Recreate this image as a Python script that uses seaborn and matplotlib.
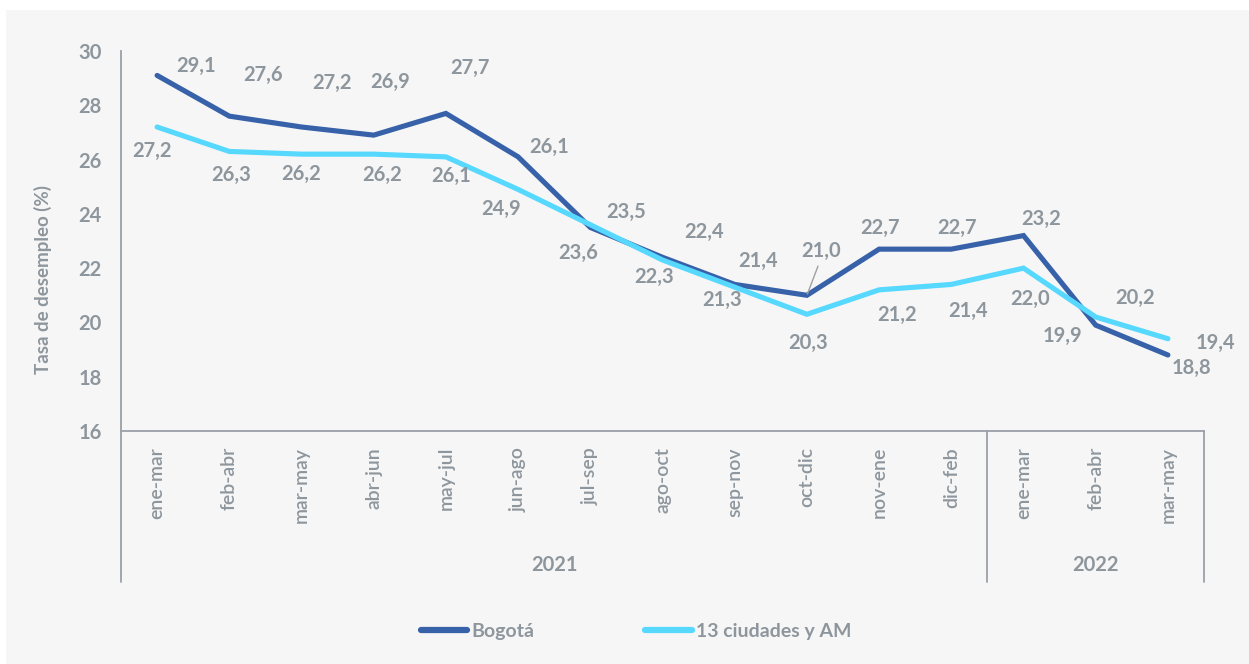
import numpy as np
import pandas as pd
import matplotlib.pyplot as plt
import seaborn as sns
from matplotlib.patches import Rectangle
from matplotlib.lines import Line2D

# data
periodos = ["ene-mar", "feb-abr", "mar-may", "abr-jun", "may-jul", "jun-ago", "jul-sep",
            "ago-oct", "sep-nov", "oct-dic", "nov-ene", "dic-feb",
            "ene-mar", "feb-abr", "mar-may"]
anios = ["2021", "2022"]
n_2021 = 12
bogota = [29.1, 27.6, 27.2, 26.9, 27.7, 26.1, 23.5, 22.4, 21.4, 21.0, 22.7, 22.7, 23.2, 19.9, 18.8]
ciudades = [27.2, 26.3, 26.2, 26.2, 26.1, 24.9, 23.6, 22.3, 21.3, 20.3, 21.2, 21.4, 22.0, 20.2, 19.4]
series = ["Bogotá", "13 ciudades y AM"]

# label offsets in points (dx, dy) relative to each point
off_bog = [(28, 7), (24, 30), (22, 32), (12, 38), (17, 33), (22, 7), (26, 11), (30, 18),
           (17, 17), (10, 32), (1, 15), (4, 15), (13, 12), (-24, -8), (17, -9)]
off_ciu = [(-4, -17), (1, -17), (0, -14), (6, -15), (4, -14), (-12, -14), (-9, -20), (-6, -12),
           (-9, -9), (1, -21), (13, -18), (12, -19), (5, -22), (28, 14), (34, -3)]

blue = "#3761a8"
cyan = "#57d8ff"
grey = "#8e969d"
axcol = "#99a0a6"

df = pd.DataFrame({
    "pos": list(range(len(periodos))) * 2,
    "valor": bogota + ciudades,
    "serie": [series[0]] * len(bogota) + [series[1]] * len(ciudades),
})

sns.set_style("white")
plt.rcParams["font.family"] = ["Lato", "DejaVu Sans"]

W, H = 1249, 664
fig = plt.figure(figsize=(W / 100, H / 100), dpi=100, facecolor="white")
fig.patches.append(Rectangle((6 / W, 0), 1, 1 - 10 / H, transform=fig.transFigure,
                             facecolor="#f6f6f6", edgecolor="none", zorder=-10))

left, right = 121 / W, 1204 / W
top, bottom = 1 - 51 / H, 1 - 431 / H
ax = fig.add_axes([left, bottom, right - left, top - bottom])
ax.set_facecolor("none")

sns.lineplot(data=df, x="pos", y="valor", hue="serie", palette=[blue, cyan],
             linewidth=3.7, sort=False, legend=False, ax=ax, zorder=3)
for ln in ax.lines:
    ln.set_solid_capstyle("round")
    ln.set_solid_joinstyle("miter")

ax.set_xlim(-0.5, len(periodos) - 0.5)
ax.set_ylim(16, 30)
ax.set_yticks(range(16, 31, 2))
ax.tick_params(axis="y", direction="in", length=6, width=1.2, color=axcol,
               labelsize=14.5, labelcolor=grey, pad=14)
for t in ax.get_yticklabels():
    t.set_fontweight("bold")
ax.set_xticks([])
ax.set_xlabel("")
ax.set_ylabel("Tasa de desempleo (%)", fontsize=13.5, color=grey, fontweight="bold")
ax.yaxis.set_label_coords(-0.064, 0.4)
for s in ["top", "right"]:
    ax.spines[s].set_visible(False)
for s in ["left", "bottom"]:
    ax.spines[s].set_color(axcol)
    ax.spines[s].set_linewidth(1.3)

# data labels
for i, v in enumerate(bogota):
    ax.annotate(f"{v:.1f}".replace(".", ","), (i, v), xytext=off_bog[i], textcoords="offset points",
                ha="center", va="center", fontsize=14.5, fontweight="bold", color=grey, zorder=5)
for i, v in enumerate(ciudades):
    ax.annotate(f"{v:.1f}".replace(".", ","), (i, v), xytext=off_ciu[i], textcoords="offset points",
                ha="center", va="center", fontsize=14.5, fontweight="bold", color=grey, zorder=5)
# leader line for oct-dic
ax.annotate("", (9, bogota[9]), xytext=(8, 21), textcoords="offset points",
            arrowprops=dict(arrowstyle="-", color="#a0a0a0", lw=1.0, shrinkA=0, shrinkB=1))

# category and year labels below the axis
trans = ax.get_xaxis_transform()
y_cat = -(447 - 431) / (431 - 51)
for i, p in enumerate(periodos):
    ax.text(i, y_cat, p, transform=trans, rotation=90, ha="center", va="top",
            fontsize=14, color=grey, fontweight="semibold")
y_end = -(582 - 431) / (431 - 51)
y_year = -(565 - 431) / (431 - 51)
ax.text((n_2021 - 1) / 2, y_year, anios[0], transform=trans, ha="center", va="center",
        fontsize=14.5, fontweight="bold", color=grey)
ax.text((n_2021 + len(periodos) - 1) / 2, y_year, anios[1], transform=trans, ha="center",
        va="center", fontsize=14.5, fontweight="bold", color=grey)
for xb in [-0.5, n_2021 - 0.5, len(periodos) - 0.5]:
    ax.plot([xb, xb], [0, y_end], transform=trans, color=axcol, lw=1.3, clip_on=False)

# legend
handles = [Line2D([0], [0], color=blue, lw=4.5, solid_capstyle="round"),
           Line2D([0], [0], color=cyan, lw=4.5, solid_capstyle="round")]
leg = fig.legend(handles, series, loc="center", bbox_to_anchor=(636 / W, 1 - 631 / H), ncol=2,
                 frameon=False, handlelength=2.4, handletextpad=0.2, columnspacing=5.7,
                 prop={"size": 14, "weight": "bold"})
for t in leg.get_texts():
    t.set_color(grey)

fig.savefig("out.png", dpi=100, facecolor=fig.get_facecolor())
